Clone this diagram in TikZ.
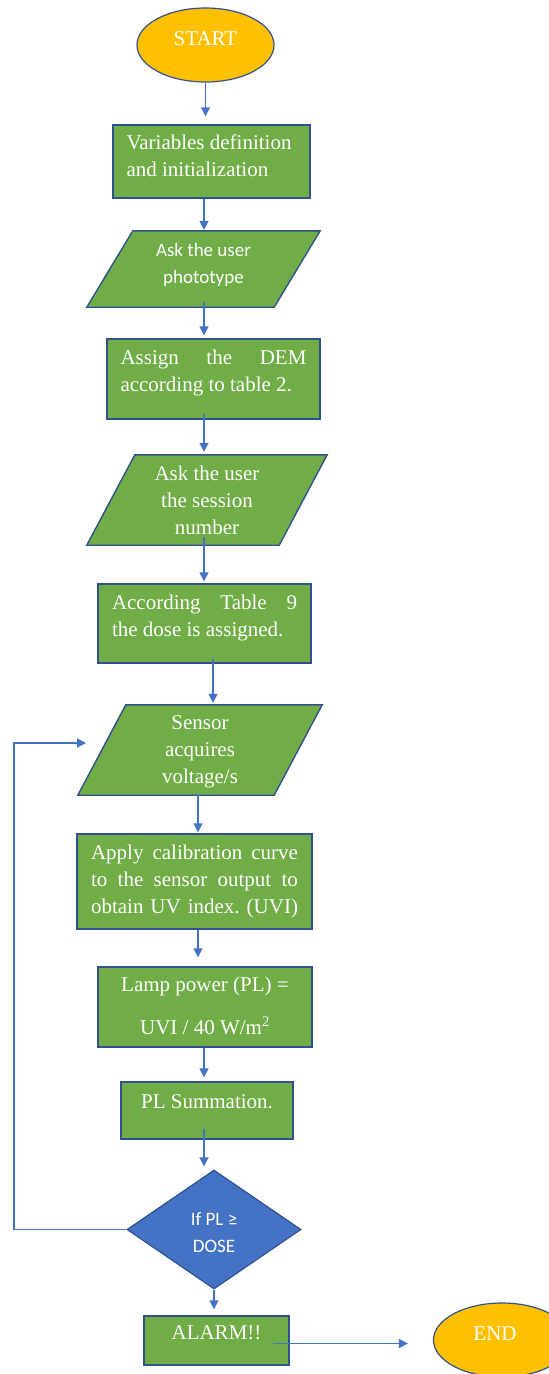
\documentclass[tikz,border=0pt]{standalone}
\usepackage{fontspec}
\setmainfont{Liberation Serif}
\newfontfamily\calib{Carlito}
\usetikzlibrary{arrows.meta,shapes.geometric,backgrounds}
\definecolor{orng}{HTML}{FFC000}
\definecolor{grn}{HTML}{70AD47}
\definecolor{blu}{HTML}{4472C4}
\definecolor{edgec}{HTML}{2F528F}
\newcommand\tbox[2]{\parbox[t]{#1}{\selectfont #2}}
\tikzset{
  serif/.style={font=\fontsize{21}{27}\selectfont, text=white},
  sans/.style={font=\calib\fontsize{19}{27}\selectfont, text=white},
  term/.style={ellipse, draw=edgec, fill=orng, line width=1.2pt, inner sep=0pt,
    text height=0pt, text depth=0pt, serif},
  proc/.style={rectangle, draw=edgec, fill=grn, line width=1.4pt,
    inner xsep=0pt, inner ysep=0pt, serif},
  iobox/.style={rectangle, draw=none, inner xsep=0pt, inner ysep=0pt},
  iopath/.style={draw=edgec, fill=grn, line width=1.4pt},
  decision/.style={diamond, aspect=1.46, draw=edgec, fill=blu, line width=1.2pt,
    inner sep=0pt, sans},
  arr/.style={draw=blu, line width=1.5pt, -{Triangle[length=9pt,width=9pt]}},
}
\begin{document}
\begin{tikzpicture}[x=1pt, y=-1pt]
\useasboundingbox (0,0) rectangle (549,1374);
\clip (0,0) rectangle (549,1374);

% nodes
\node[term, minimum width=137pt, minimum height=74pt] (start) at (205.5,45) {START};
\node[proc, minimum width=197pt, text height=24pt, text depth=49pt] (var) at (211.5,161.5)
  {\tbox{170pt}{\raggedright Variables definition\\and initialization}};
\node[iobox, sans, minimum width=233pt, text height=25pt, text depth=51pt] (ask1) at (203.5,269)
  {\tbox{150pt}{\centering Ask the user\\phototype}};
\node[proc, minimum width=213pt, text height=25pt, text depth=55pt] (assign) at (213.5,379)
  {\tbox{186pt}{Assign\hfill the\hfill DEM\\according to table 2.}};
\node[iobox, serif, minimum width=240pt, text height=25pt, text depth=65pt] (ask2) at (207,500)
  {\tbox{170pt}{\centering Ask the user\\the session\\number}};
\node[proc, minimum width=213pt, text height=25pt, text depth=54pt] (acc) at (204.5,623.5)
  {\tbox{185pt}{According\hfill Table\hfill 9\\the dose is assigned.}};
\node[iobox, serif, minimum width=244pt, text height=24pt, text depth=66pt] (sensor) at (200,750)
  {\tbox{170pt}{\centering Sensor\\acquires\\voltage/s}};
\node[proc, minimum width=235pt, text height=25pt, text depth=70pt] (apply) at (194.5,881.5)
  {\tbox{207pt}{Apply\hfill calibration\hfill curve\\to\hfill the\hfill sensor\hfill output\hfill to\\obtain\hfill UV\hfill index.\hfill (UVI)}};
\node[proc, minimum width=214pt, text height=24pt, text depth=56pt] (lamp) at (205,1007)
  {\tbox{200pt}{\centering Lamp power (PL) =\\[16pt]UVI / 40 W/m\textsuperscript{2}}};
\node[proc, minimum width=172pt, text height=26pt, text depth=31pt] (pl) at (207,1110.5)
  {PL Summation.};
\node[decision, minimum width=174pt, minimum height=119pt, text height=20pt, text depth=29pt] (dec) at (214,1229.5)
  {\tbox{70pt}{\centering If PL ≥\\DOSE}};
\node[proc, minimum width=145pt, text height=23pt, text depth=26pt] (alarm) at (216.5,1340.5)
  {ALARM!!};
\node[term, minimum width=137pt, minimum height=74pt] (end) at (502,1340) {\hspace*{-14pt}END};

% parallelograms behind their texts
\begin{scope}[on background layer]
  \filldraw[iopath] ([xshift=46pt]ask1.north west) -- (ask1.north east)
     -- ([xshift=-46pt]ask1.south east) -- (ask1.south west) -- cycle;
  \filldraw[iopath] ([xshift=48pt]ask2.north west) -- (ask2.north east)
     -- ([xshift=-48pt]ask2.south east) -- (ask2.south west) -- cycle;
  \filldraw[iopath] ([xshift=48pt]sensor.north west) -- (sensor.north east)
     -- ([xshift=-48pt]sensor.south east) -- (sensor.south west) -- cycle;
\end{scope}

% axis coordinates
\coordinate (ax) at (204,0);
\coordinate (axb) at (213,0);
\coordinate (axc) at (198,0);
\coordinate (fbc) at (14,743);
\coordinate (fbend) at (86,743);
\coordinate (alarmout) at (273,1343.5);

% connectors
\draw[arr, shorten >=8pt] (start.south) -- (start.south |- var.north);
\draw[arr, shorten >=1pt] (var.south -| ax) -- (ask1.north -| ax);
\draw[arr, shorten <=-5pt, shorten >=3pt] (ask1.south -| ax) -- (assign.north -| ax);
\draw[arr, shorten <=-6pt, shorten >=3pt] (assign.south -| ax) -- (ask2.north -| ax);
\draw[arr, shorten <=-8pt, shorten >=2pt] (ask2.south -| ax) -- (acc.north -| ax);
\draw[arr, shorten <=-5pt, shorten >=2pt] (acc.south -| axb) -- (sensor.north -| axb);
\draw[arr, shorten >=1pt] (sensor.south -| axc) -- (apply.north -| axc);
\draw[arr, shorten >=9pt] (apply.south -| axc) -- (lamp.north -| axc);
\draw[arr, shorten >=4pt] (lamp.south -| ax) -- (pl.north -| ax);
\draw[arr, shorten <=-11pt, shorten >=3pt] (pl.south -| ax) -- (dec.north -| ax);
\draw[arr, shorten >=6pt] (dec.south) -- (alarm.north -| dec.south);
\draw[arr, shorten >=25pt] (alarmout) -- (alarmout -| end.west);
\draw[arr] (dec.west) -| (fbc) -- (fbend);
\end{tikzpicture}
\end{document}
